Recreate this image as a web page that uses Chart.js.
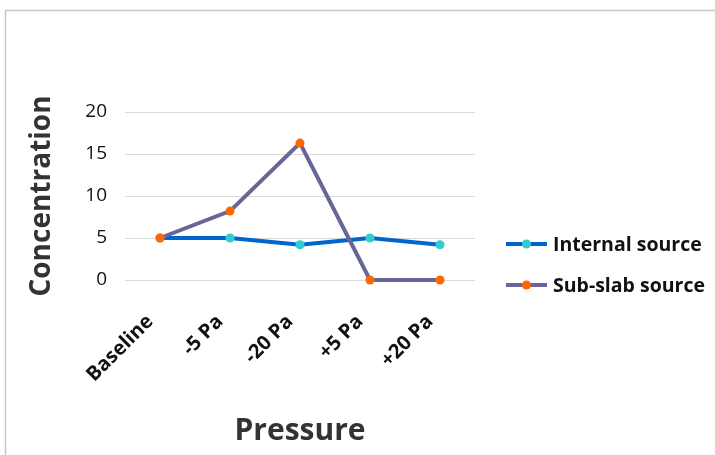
<!DOCTYPE html>
<html>
<head>
<meta charset="utf-8">
<title>Concentration vs Pressure</title>
<script src="https://cdn.jsdelivr.net/npm/chart.js@4/dist/chart.umd.min.js"></script>
<style>
  html, body { margin: 0; padding: 0; background: #ffffff; }
  #wrap { position: relative; width: 715px; height: 455px; }
  canvas { display: block; }
</style>
</head>
<body>
<div id="wrap"><canvas id="chart" width="715" height="455"></canvas></div>
<script>
// Pressure steps and measured concentrations
const categories = ['Baseline', '-5 Pa', '-20 Pa', '+5 Pa', '+20 Pa'];
const internalSource = [5, 5, 4.2, 5, 4.2];
const subSlabSource = [5, 8.2, 16.3, 0, 0];
const yTicks = [0, 5, 10, 15, 20];

const seriesNames = ['Internal source', 'Sub-slab source'];

// Light grey frame around the whole figure
const framePlugin = {
  id: 'frame',
  beforeDraw(chart) {
    const ctx = chart.ctx;
    ctx.save();
    ctx.strokeStyle = '#c8c8c8';
    ctx.lineWidth = 1.5;
    ctx.strokeRect(5.5, 10.5, 900, 700);
    ctx.restore();
  }
};

// Legend on the right: line sample with a centred marker, then the label
const sideLegend = {
  id: 'sideLegend',
  afterDraw(chart) {
    const ctx = chart.ctx;
    const rows = [244, 285];
    ctx.save();
    chart.data.datasets.forEach((ds, i) => {
      const y = rows[i];
      ctx.strokeStyle = ds.borderColor;
      ctx.lineWidth = ds.borderWidth;
      ctx.beginPath();
      ctx.moveTo(506, y);
      ctx.lineTo(547, y);
      ctx.stroke();
      ctx.fillStyle = ds.pointBackgroundColor;
      ctx.beginPath();
      ctx.arc(526.5, y, ds.pointRadius, 0, Math.PI * 2);
      ctx.fill();
      ctx.fillStyle = '#111111';
      ctx.font = 'bold 19.5px "Open Sans"';
      ctx.textAlign = 'left';
      ctx.textBaseline = 'middle';
      ctx.fillText(ds.label, 553, y + 1);
    });
    ctx.restore();
  }
};

function build() {
  new Chart(document.getElementById('chart'), {
    type: 'line',
    data: {
      labels: categories,
      datasets: [
        {
          label: seriesNames[0],
          data: internalSource,
          borderColor: '#0066cc',
          borderWidth: 4,
          pointBackgroundColor: '#33cccc',
          pointBorderWidth: 0,
          pointRadius: 4.5,
          tension: 0,
          clip: false,
          order: 2
        },
        {
          label: seriesNames[1],
          data: subSlabSource,
          borderColor: '#666699',
          borderWidth: 4,
          pointBackgroundColor: '#ff6600',
          pointBorderWidth: 0,
          pointRadius: 4.5,
          tension: 0,
          clip: false,
          order: 1
        }
      ]
    },
    options: {
      responsive: false,
      animation: false,
      layout: { padding: { left: 20, right: 240, top: 112, bottom: 0 } },
      plugins: {
        legend: { display: false },
        tooltip: { enabled: false }
      },
      scales: {
        x: {
          offset: true,
          grid: { display: false },
          border: { display: false },
          ticks: {
            minRotation: 45,
            maxRotation: 45,
            padding: 22,
            labelOffset: -10,
            color: '#111111',
            font: { family: 'Open Sans', size: 20, weight: 'bold' }
          },
          title: {
            display: true,
            text: 'Pressure',
            color: '#333333',
            font: { family: 'Open Sans', size: 30, weight: 'bold' },
            padding: { top: 0, bottom: 6 }
          },
          afterFit(scale) { scale.height = 175; }
        },
        y: {
          min: yTicks[0],
          max: yTicks[yTicks.length - 1],
          afterBuildTicks(scale) { scale.ticks = yTicks.map(v => ({ value: v })); },
          grid: { color: '#d9d9d9', lineWidth: 1, drawTicks: false },
          border: { display: false },
          ticks: {
            padding: 18,
            color: '#111111',
            font: { family: 'Open Sans', size: 19 }
          },
          title: {
            display: true,
            text: 'Concentration',
            color: '#333333',
            font: { family: 'Open Sans', size: 28, weight: 'bold' },
            padding: { top: 5, bottom: 0 }
          },
          afterFit(scale) { scale.width = 105; }
        }
      }
    },
    plugins: [framePlugin, sideLegend]
  });
}

if (document.fonts && document.fonts.load) {
  Promise.all([
    document.fonts.load('bold 28px "Open Sans"'),
    document.fonts.load('18px "Open Sans"')
  ]).then(build, build);
} else {
  build();
}
</script>
</body>
</html>
